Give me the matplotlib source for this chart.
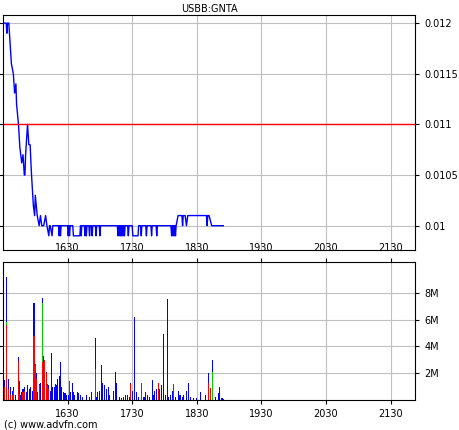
import matplotlib
matplotlib.use("Agg")
import matplotlib.pyplot as plt

title = "USBB:GNTA"
ref_level = 0.011
price_x = [1530,1535,1536,1537,1539,1540,1543,1546,1548,1550,1551,1554,1556,1559,1561,1563,1564,1565,1568,1570,1572,1574,1577,1579,1580,1583,1586,1588,1590,1593,1596,1598,1601,1602,1603,1606,1607,1608,1616,1617,1618,1619,1620,1630,1631,1632,1633,1634,1638,1639,1649,1650,1651,1652,1656,1657,1658,1659,1660,1661,1663,1664,1665,1667,1668,1669,1673,1674,1675,1679,1680,1681,1707,1708,1709,1710,1711,1712,1713,1714,1715,1716,1717,1718,1719,1720,1723,1724,1725,1730,1731,1739,1740,1743,1744,1745,1751,1752,1753,1759,1760,1761,1767,1768,1769,1790,1791,1792,1793,1794,1795,1796,1797,1798,1801,1804,1807,1808,1809,1810,1812,1814,1816,1845,1846,1847,1849,1853,1871]
price_y = [0.0120,0.0120,0.0119,0.0120,0.0120,0.0119,0.0116,0.0115,0.01131,0.01140,0.0112,0.0110,0.01078,0.01062,0.0107,0.0105,0.0105,0.0107,0.0110,0.0108,0.0108,0.01052,0.0102,0.0101,0.0103,0.0101,0.0100,0.0101,0.0100,0.0100,0.0101,0.0100,0.0099,0.0100,0.0100,0.0099,0.0100,0.0100,0.0100,0.0099,0.0100,0.0099,0.0100,0.0100,0.0099,0.0100,0.0099,0.0100,0.0100,0.0099,0.0099,0.0100,0.0099,0.0100,0.0100,0.0099,0.0100,0.0099,0.0100,0.0100,0.0100,0.0099,0.0100,0.0100,0.0099,0.0100,0.0100,0.0099,0.0100,0.0100,0.0099,0.0100,0.0100,0.0099,0.0100,0.0099,0.0100,0.0099,0.0100,0.0099,0.0100,0.0099,0.0100,0.0099,0.0100,0.0100,0.0100,0.0099,0.0100,0.0100,0.0099,0.0099,0.0100,0.0100,0.0099,0.0100,0.0100,0.0099,0.0100,0.0100,0.0099,0.0100,0.0100,0.0099,0.0100,0.0100,0.0099,0.0100,0.0099,0.0100,0.0099,0.0100,0.0099,0.0100,0.0101,0.0101,0.0101,0.0100,0.0101,0.0101,0.0101,0.0100,0.0101,0.0101,0.0100,0.0101,0.0101,0.0100,0.0100]

vol_x = [1531,1533,1535,1536,1539,1541,1542,1544,1547,1550,1554,1555,1557,1559,1561,1563,1566,1568,1571,1573,1575,1577,1578,1580,1582,1584,1586,1588,1591,1593,1595,1597,1599,1601,1603,1605,1607,1609,1611,1613,1615,1617,1619,1621,1623,1626,1628,1631,1633,1635,1637,1639,1641,1645,1647,1650,1653,1659,1664,1667,1673,1675,1677,1680,1682,1684,1687,1690,1693,1695,1701,1704,1706,1710,1713,1716,1719,1723,1726,1728,1730,1733,1734,1737,1740,1744,1747,1749,1751,1754,1757,1761,1763,1765,1768,1770,1773,1775,1778,1781,1784,1786,1789,1792,1794,1797,1802,1804,1808,1810,1814,1817,1821,1825,1829,1835,1844,1848,1851,1855,1859,1863,1865,1869,1872]
vol_m = [3.4,1.5,9.2,2.8,1.6,1.0,0.4,0.7,1.0,0.4,3.2,1.4,0.4,0.6,0.85,1.0,0.6,1.1,0.85,1.0,0.7,2.3,7.2,2.7,2.0,0.6,1.2,1.3,7.6,3.3,3.0,2.1,1.2,1.1,0.7,3.5,1.0,1.0,1.2,1.1,1.6,1.8,2.8,1.0,0.6,0.5,0.4,0.4,1.4,0.6,1.3,0.6,0.4,0.6,0.5,0.4,0.25,0.4,0.25,0.6,4.6,0.25,0.6,0.7,2.6,1.3,1.1,0.85,1.0,0.4,0.7,2.1,1.3,0.25,0.12,0.25,0.4,0.4,0.25,1.3,0.7,6.2,4.1,0.6,0.25,1.3,0.25,0.25,0.6,0.4,0.25,1.5,0.4,0.7,0.85,1.3,0.85,1.15,4.9,0.4,7.5,0.25,0.4,0.7,1.2,0.25,0.7,0.4,0.25,0.4,0.7,1.3,0.25,0.12,0.12,0.6,0.4,2.0,0.9,3.0,0.25,0.55,1.0,0.12,0.08]
red_x = [1531,1533,1535,1536,1539,1541,1544,1547,1554,1555,1561,1563,1577,1578,1580,1582,1586,1591,1593,1595,1597,1599,1601,1633,1673,1728,1744,1770,1794,1848,1851]
red_m = [0.85,1.0,5.6,0.4,0.85,0.4,0.4,0.7,2.9,0.4,0.6,0.7,1.7,4.8,2.6,1.6,1.1,2.8,2.8,3.0,2.0,1.1,0.85,1.4,2.3,1.2,1.3,1.3,1.2,1.3,0.9]
green_x = [1591,1855,1535]
green_lo = [2.8,0.0,5.6]
green_hi = [7.2,2.1,5.8]

fig = plt.figure(figsize=(4.6, 4.3), dpi=100)
ax1 = fig.add_axes([0.0065, 0.4186, 0.896, 0.5465])
ax2 = fig.add_axes([0.0065, 0.0698, 0.896, 0.321])
grid_c = "#c0c0c0"
for ax in (ax1, ax2):
    ax.set_xlim(1530, 2168)
    ax.set_xticks([1630, 1730, 1830, 1930, 2030, 2130])
    ax.grid(True, color=grid_c, lw=0.8)
    ax.set_axisbelow(True)
    ax.yaxis.tick_right()
    ax.tick_params(labelsize=7, length=3, direction="out", left=True, right=True)

ax1.plot(price_x, price_y, color="#0000ff", lw=1)
ax1.axhline(ref_level, color="#ff0000", lw=1)
ax1.set_ylim(0.00976, 0.01208)
ax1.set_yticks([0.01, 0.0105, 0.011, 0.0115, 0.012])
ax1.set_yticklabels(["0.01", "0.0105", "0.011", "0.0115", "0.012"])
ax1.tick_params(axis="x", labelbottom=False, bottom=False)
ax1.set_title(title, fontsize=7, pad=2)

w = 1.6
ax2.bar(vol_x, vol_m, width=w, color="#0000ff", linewidth=0, antialiased=False)
ax2.bar(red_x, red_m, width=w, color="#ff0000", linewidth=0, antialiased=False)
ax2.bar(green_x, [h - l for h, l in zip(green_hi, green_lo)], bottom=green_lo, width=w,
        color="#00cc00", linewidth=0, antialiased=False)
ax2.set_ylim(0, 10.3)
ax2.set_yticks([2, 4, 6, 8])
ax2.set_yticklabels(["2M", "4M", "6M", "8M"])
ax2.tick_params(axis="x", labeltop=True, top=True)

fig.text(0.008, 0.005, "(c) www.advfn.com", fontsize=7)
fig.savefig("out.png", dpi=100)
